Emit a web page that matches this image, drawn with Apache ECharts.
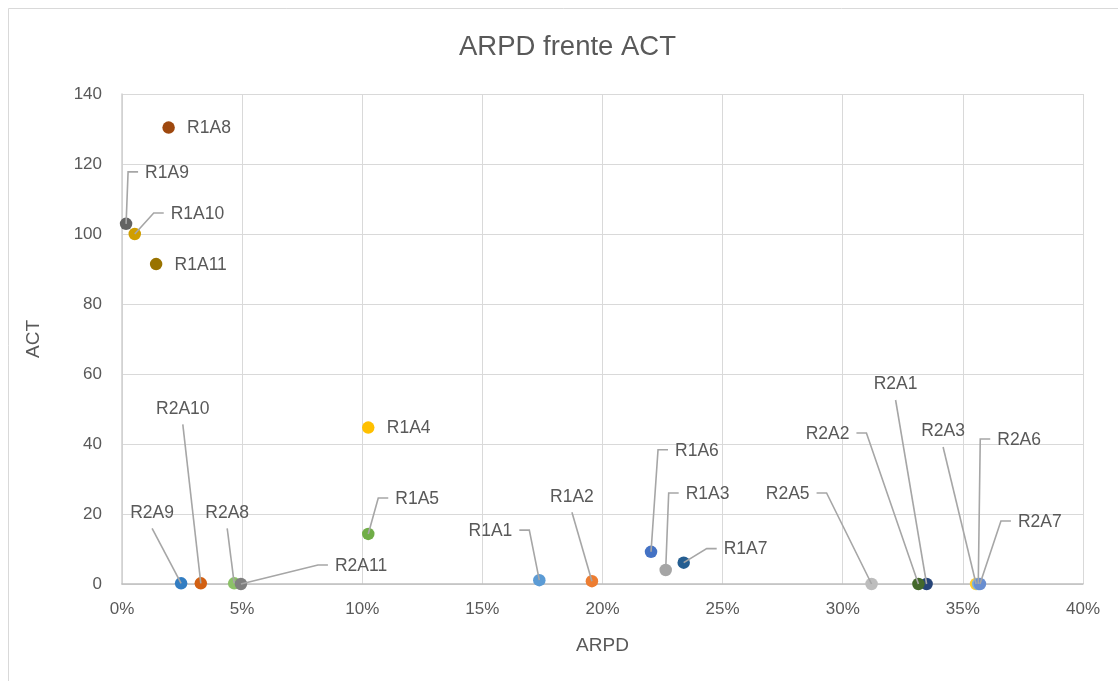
<!DOCTYPE html>
<html>
<head>
<meta charset="utf-8">
<script src="https://cdn.jsdelivr.net/npm/echarts@6/dist/echarts.min.js"></script>
<style>
  html, body { margin: 0; padding: 0; background: #ffffff; }
  #chart { width: 1118px; height: 681px; }
</style>
</head>
<body>
<div id="chart"></div>
<script>
// Point names, ARPD (fraction) and ACT values
const pointNames = [
  'R1A1', 'R1A2', 'R1A3', 'R1A4', 'R1A5', 'R1A6', 'R1A7', 'R1A8', 'R1A9', 'R1A10', 'R1A11',
  'R2A1', 'R2A2', 'R2A3', 'R2A5', 'R2A6', 'R2A7', 'R2A8', 'R2A9', 'R2A10', 'R2A11'
];
const arpdValues = [
  0.1737, 0.1956, 0.2263, 0.1025, 0.1025, 0.2202, 0.2338, 0.0194, 0.0017, 0.0053, 0.0142,
  0.3349, 0.3315, 0.3555, 0.3120, 0.3564, 0.3571, 0.0467, 0.0246, 0.0328, 0.0495
];
const actValues = [
  1.1, 0.8, 4.0, 44.7, 14.3, 9.2, 6.1, 130.4, 102.9, 100.0, 91.4,
  0, 0, 0, 0, 0, 0, 0.2, 0.2, 0.2, 0
];

// Axis tick labels
const xTickLabels = ['0%', '5%', '10%', '15%', '20%', '25%', '30%', '35%', '40%'];
const yTickLabels = ['0', '20', '40', '60', '80', '100', '120', '140'];

// Marker colours, one per point
const pointColors = {
  R1A1: '#5B9BD5', R1A2: '#ED7D31', R1A3: '#A5A5A5', R1A4: '#FFC000', R1A5: '#70AD47',
  R1A6: '#4472C4', R1A7: '#255E91', R1A8: '#9E480E', R1A9: '#636363', R1A10: '#D09E00',
  R1A11: '#997300', R2A1: '#264478', R2A2: '#43682B', R2A3: '#FFCD33', R2A5: '#BDBDBD',
  R2A6: '#7CAFDD', R2A7: '#698ED0', R2A8: '#8CC168', R2A9: '#327DC2', R2A10: '#D26012',
  R2A11: '#7F7F7F'
};

// Data label placement: which side of the label the leader line attaches to,
// and the pixel offset of the leader's bend from the marker centre
const labelPlacement = {
  R1A1: { side: 'right', dx: -10, dy: -50 },
  R1A2: { side: 'bottom', dx: -20, dy: -69 },
  R1A3: { side: 'left', dx: 3, dy: -77 },
  R1A4: { side: 'none' },
  R1A5: { side: 'left', dx: 10, dy: -36 },
  R1A6: { side: 'left', dx: 7, dy: -102 },
  R1A7: { side: 'left', dx: 23, dy: -14 },
  R1A8: { side: 'none' },
  R1A9: { side: 'left', dx: 2, dy: -52 },
  R1A10: { side: 'left', dx: 19, dy: -21 },
  R1A11: { side: 'none' },
  R2A1: { side: 'bottom', dx: -31, dy: -184 },
  R2A2: { side: 'right', dx: -52, dy: -151 },
  R2A3: { side: 'bottom', dx: -33, dy: -137 },
  R2A5: { side: 'right', dx: -45, dy: -91 },
  R2A6: { side: 'left', dx: 2, dy: -145 },
  R2A7: { side: 'left', dx: 21, dy: -63 },
  R2A8: { side: 'bottom', dx: -7, dy: -55 },
  R2A9: { side: 'bottom', dx: -29, dy: -55 },
  R2A10: { side: 'bottom', dx: -18, dy: -159 },
  R2A11: { side: 'left', dx: 77, dy: -19 }
};

const FONT = '"Liberation Sans", Arial, sans-serif';
const TEXT_COLOR = '#595959';
const LEADER_SEG = 10;
const LEADER_GAP = 7;

const points = pointNames.map((name, i) => ({
  name: name,
  value: [arpdValues[i], actValues[i]],
  itemStyle: { color: pointColors[name], opacity: 1 }
}));

const chart = echarts.init(document.getElementById('chart'), null, { renderer: 'canvas' });

chart.setOption({
  backgroundColor: '#ffffff',
  animation: false,
  graphic: [
    {
      type: 'rect',
      shape: { x: 8.5, y: 8.5, width: 1300, height: 900 },
      style: { fill: 'none', stroke: '#D9D9D9', lineWidth: 1 },
      silent: true,
      z: -10
    },
    {
      type: 'text',
      x: 567.5,
      y: 47.5,
      style: {
        text: 'ARPD frente ACT',
        font: '27.5px ' + FONT,
        fill: TEXT_COLOR,
        align: 'center',
        verticalAlign: 'middle'
      },
      silent: true
    }
  ],
  grid: { left: 122, right: 35, top: 94, bottom: 97, containLabel: false },
  xAxis: {
    type: 'value',
    min: 0,
    max: 0.4,
    interval: 0.05,
    name: 'ARPD',
    nameLocation: 'middle',
    nameGap: 52,
    nameTextStyle: { fontFamily: FONT, fontSize: 19, color: TEXT_COLOR },
    axisLine: { show: true, onZero: false, lineStyle: { color: '#BFBFBF', width: 1.5 } },
    axisTick: { show: false },
    axisLabel: {
      margin: 17,
      fontFamily: FONT,
      fontSize: 17,
      color: TEXT_COLOR,
      formatter: (v) => xTickLabels[Math.round(v / 0.05)]
    },
    splitLine: { show: true, lineStyle: { color: '#D9D9D9', width: 1 } }
  },
  yAxis: {
    type: 'value',
    min: 0,
    max: 140,
    interval: 20,
    name: 'ACT',
    nameLocation: 'middle',
    nameGap: 79,
    nameRotate: 90,
    nameTextStyle: { fontFamily: FONT, fontSize: 19, color: TEXT_COLOR },
    axisLine: { show: true, lineStyle: { color: '#CFCFCF', width: 1.5 } },
    axisTick: { show: false },
    axisLabel: {
      margin: 20,
      fontFamily: FONT,
      fontSize: 17,
      color: TEXT_COLOR,
      formatter: (v) => yTickLabels[Math.round(v / 20)]
    },
    splitLine: { show: true, lineStyle: { color: '#D9D9D9', width: 1 } }
  },
  series: [
    {
      type: 'scatter',
      data: points,
      symbol: 'circle',
      symbolSize: 12.5,
      itemStyle: { opacity: 1 },
      z: 2,
      silent: true
    },
    {
      // Data labels with leader lines, positioned from each point's coordinates
      type: 'custom',
      data: points.map(p => p.value),
      encode: { x: 0, y: 1 },
      clip: false,
      silent: true,
      z: 3,
      renderItem: function (params, api) {
        const name = pointNames[params.dataIndex];
        const lay = labelPlacement[name];
        const p = api.coord([api.value(0), api.value(1)]);
        const children = [];
        let tx, ty, align = 'left';
        if (lay.side === 'none') {
          tx = p[0] + 18.5;
          ty = p[1] + 1;
        } else {
          const kx = p[0] + lay.dx;
          const ky = p[1] + lay.dy;
          let pts;
          if (lay.side === 'left') {
            pts = [p, [kx, ky], [kx + LEADER_SEG, ky]];
            tx = kx + LEADER_SEG + LEADER_GAP;
            ty = ky + 1;
          } else if (lay.side === 'right') {
            pts = [p, [kx, ky], [kx - LEADER_SEG, ky]];
            tx = kx - LEADER_SEG - LEADER_GAP;
            ty = ky + 1;
            align = 'right';
          } else {
            pts = [p, [kx, ky]];
            tx = kx;
            ty = ky - 15.5;
            align = 'center';
          }
          children.push({
            type: 'polyline',
            shape: { points: pts },
            style: { stroke: '#A6A6A6', lineWidth: 1.6, fill: 'none' }
          });
        }
        children.push({
          type: 'text',
          x: tx,
          y: ty,
          style: {
            text: name,
            font: '17.5px ' + FONT,
            fill: TEXT_COLOR,
            align: align,
            verticalAlign: 'middle'
          }
        });
        return { type: 'group', children: children };
      }
    }
  ]
});
</script>
</body>
</html>
